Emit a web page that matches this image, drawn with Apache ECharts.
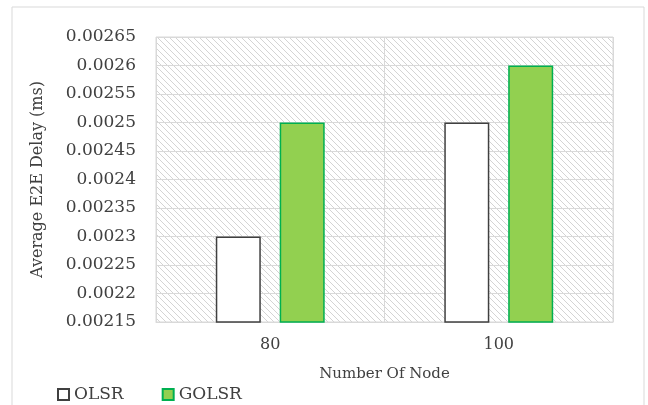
<!DOCTYPE html>
<html>
<head>
<meta charset="utf-8">
<title></title>
<script type="text/javascript" src="https://cdn.jsdelivr.net/npm/echarts@6/dist/echarts.min.js"></script>
</head>
<body style="margin:0">
<div id="chart" style="width:648px;height:405px;"></div>
<script type="text/javascript">
var nodes = ['80', '100'];
var olsr = [0.0023, 0.0025];
var golsr = [0.0025, 0.0026];

// diagonal hatch for the plot background
var hatch = document.createElement('canvas');
hatch.width = 6;
hatch.height = 6;
var hc = hatch.getContext('2d');
hc.fillStyle = '#ffffff';
hc.fillRect(0, 0, 6, 6);
hc.strokeStyle = '#d4d4d4';
hc.lineWidth = 1;
hc.beginPath();
hc.moveTo(-1, -1); hc.lineTo(7, 7);
hc.moveTo(-1, 5); hc.lineTo(1, 7);
hc.moveTo(5, -1); hc.lineTo(7, 1);
hc.stroke();

var myChart = echarts.init(document.getElementById('chart'));
var font = 'DejaVu Serif';
var option = {
  backgroundColor: '#ffffff',
  graphic: [{
    type: 'rect',
    shape: { x: 12, y: 7, width: 632, height: 410 },
    style: { fill: 'none', stroke: '#d9d9d9', lineWidth: 1 }
  }],
  legend: {
    left: 52,
    top: 381,
    icon: 'rect',
    itemWidth: 11,
    itemHeight: 11,
    itemGap: 38,
    textStyle: { fontFamily: font, fontSize: 17, color: '#404040' },
    data: ['OLSR', 'GOLSR']
  },
  grid: {
    left: 156, right: 35, top: 37, bottom: 83,
    show: true,
    borderColor: '#d9d9d9',
    borderWidth: 1,
    backgroundColor: { image: hatch, repeat: 'repeat' }
  },
  xAxis: {
    type: 'category',
    data: nodes,
    name: 'Number Of Node',
    nameLocation: 'middle',
    nameGap: 45,
    nameTextStyle: { fontFamily: font, fontSize: 15, color: '#404040' },
    axisLine: { show: true, lineStyle: { color: '#d9d9d9' } },
    axisTick: { show: false },
    axisLabel: { fontFamily: font, fontSize: 16, color: '#404040', margin: 15 },
    splitLine: { show: true, lineStyle: { color: '#d9d9d9' } }
  },
  yAxis: {
    type: 'value',
    min: 0.00215,
    max: 0.00265,
    interval: 0.00005,
    name: 'Average E2E Delay (ms)',
    nameLocation: 'middle',
    nameGap: 110,
    nameTextStyle: { fontFamily: font, fontSize: 16, color: '#404040' },
    axisLine: { show: false },
    axisTick: { show: false },
    axisLabel: {
      fontFamily: font, fontSize: 17, color: '#404040', margin: 20,
      formatter: function (v) { return String(parseFloat(v.toFixed(6))); }
    },
    splitLine: { show: true, lineStyle: { color: '#d9d9d9', width: 1 } }
  },
  series: [
    {
      name: 'OLSR',
      type: 'bar',
      data: olsr,
      barWidth: 45,
      barGap: '42%',
      itemStyle: { color: '#ffffff', borderColor: '#404040', borderWidth: 1.5 }
    },
    {
      name: 'GOLSR',
      type: 'bar',
      data: golsr,
      barWidth: 45,
      itemStyle: { color: '#92d050', borderColor: '#00b050', borderWidth: 1.5 }
    }
  ]
};
myChart.setOption(option);
</script>
</body>
</html>
